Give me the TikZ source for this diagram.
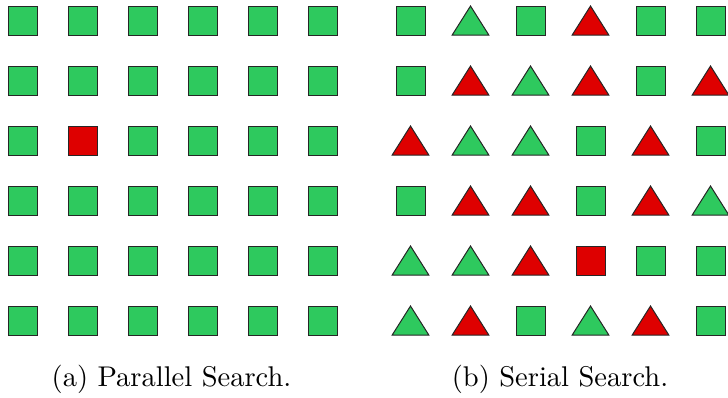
\documentclass[tikz,border=0pt]{standalone}
\usepackage{graphicx}
\definecolor{gr}{RGB}{46,201,94}
\definecolor{rd}{RGB}{222,0,0}
\tikzset{
  cell/.style={draw=black!85,line width=1pt,line join=miter},
  caption/.style={scale=2.85,inner sep=0pt,anchor=base},
  pics/gs/.style={code={\draw[cell,fill=gr] (-14.5,-14.5) rectangle (14.5,14.5);}},
  pics/rs/.style={code={\draw[cell,fill=rd] (-14.5,-14.5) rectangle (14.5,14.5);}},
  pics/gt/.style={code={\draw[cell,fill=gr] (-18.3,14.5) -- (18.3,14.5) -- (0,-14.5) -- cycle;}},
  pics/rt/.style={code={\draw[cell,fill=rd] (-18.3,14.5) -- (18.3,14.5) -- (0,-14.5) -- cycle;}}
}
\begin{document}
\begin{tikzpicture}[x=1pt,y=-1pt]
\useasboundingbox (0,0) rectangle (728,397);
% (a) parallel search
\foreach \row [count=\r from 0] in {
  {gs,gs,gs,gs,gs,gs},
  {gs,gs,gs,gs,gs,gs},
  {gs,rs,gs,gs,gs,gs},
  {gs,gs,gs,gs,gs,gs},
  {gs,gs,gs,gs,gs,gs},
  {gs,gs,gs,gs,gs,gs}} {
  \foreach \k [count=\c from 0] in \row {
    \pic at (22.5+60*\c, 20.5+60*\r) {\k};
  }
}
% (b) serial search
\foreach \row [count=\r from 0] in {
  {gs,gt,gs,rt,gs,gs},
  {gs,rt,gt,rt,gs,rt},
  {rt,gt,gt,gs,rt,gs},
  {gs,rt,rt,gs,rt,gt},
  {gt,gt,rt,rs,gs,gs},
  {gt,rt,gs,gt,rt,gs}} {
  \foreach \k [count=\c from 0] in \row {
    \pic at (410.5+60*\c, 20.5+60*\r) {\k};
  }
}
\node[caption] (capa) at (171.5,386.5) {(a) Parallel Search.};
\node[caption] (capb) at (560,386.5) {(b) Serial Search.};
\end{tikzpicture}
\end{document}
